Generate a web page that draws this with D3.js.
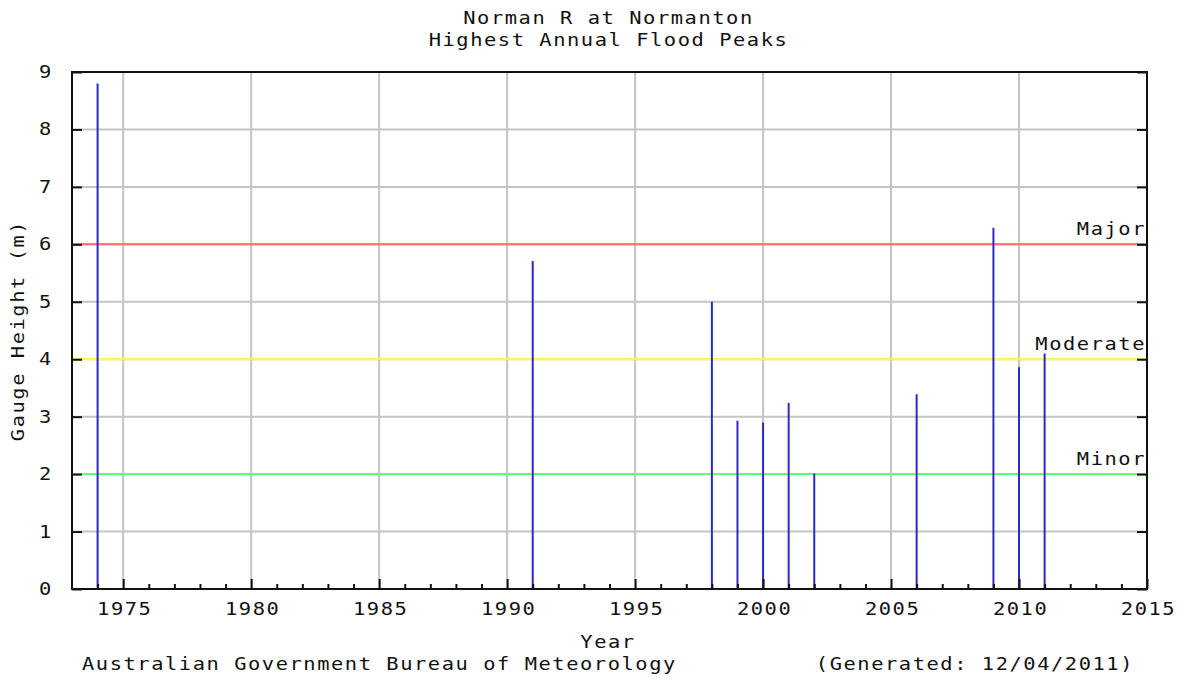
<!DOCTYPE html>
<html>
<head>
<meta charset="utf-8">
<script src="https://cdn.jsdelivr.net/npm/d3@7"></script>
<style>
  body { margin: 0; background: #fff; }
  svg text { font-family: "DejaVu Sans Mono", monospace; font-size: 17px; letter-spacing: 1.3px; fill: #111; }
</style>
</head>
<body>
<svg id="chart" width="1180" height="680"></svg>
<script>
const titleLines = ["Norman R at Normanton", "Highest Annual Flood Peaks"];
const years = [1974, 1991, 1998, 1999, 2000, 2001, 2002, 2006, 2009, 2010, 2011];
const peaks = [8.80, 5.71, 5.00, 2.93, 2.90, 3.24, 2.01, 3.39, 6.29, 3.86, 4.10];
const xMajorTicks = [1975, 1980, 1985, 1990, 1995, 2000, 2005, 2010, 2015];
const yTicks = [0, 1, 2, 3, 4, 5, 6, 7, 8, 9];
const levelNames = ["Major", "Moderate", "Minor"];
const levelValues = [6, 4, 2];
const levelColors = ["#ff6a6a", "#ffff3c", "#66ff66"];
const xLabel = "Year";
const yLabel = "Gauge Height (m)";
const footerLeft = "Australian Government Bureau of Meteorology";
const footerRight = "(Generated: 12/04/2011)";

const SX = 1.2; // horizontal glyph stretch to mimic the wide bitmap font
const svg = d3.select("#chart");
const L = 72, R = 1147, T = 72, B = 589;
const x = d3.scaleLinear().domain([1973, 2015]).range([L, R]);
const y = d3.scaleLinear().domain([0, 9]).range([B, T]);

function label(parent, px, py, str, anchor, rot) {
  const g = parent.append("g").attr("transform", `translate(${px},${py})${rot ? ` rotate(${rot})` : ""} scale(${SX},1)`);
  g.append("text").attr("text-anchor", anchor || "start").text(str);
  return g;
}

// grid
const grid = svg.append("g");
grid.selectAll("line.gx").data(xMajorTicks.filter(v => v < 2015)).join("line")
  .attr("x1", d => x(d)).attr("x2", d => x(d)).attr("y1", T).attr("y2", B)
  .attr("stroke", "#c4c4c4").attr("stroke-width", 2);
grid.selectAll("line.gy").data(yTicks.filter(v => v > 0 && v < 9)).join("line")
  .attr("x1", L).attr("x2", R).attr("y1", d => y(d)).attr("y2", d => y(d))
  .attr("stroke", "#c4c4c4").attr("stroke-width", 2);

// threshold lines
svg.append("g").selectAll("line").data(levelValues).join("line")
  .attr("x1", L).attr("x2", R).attr("y1", d => y(d)).attr("y2", d => y(d))
  .attr("stroke", (d, i) => levelColors[i]).attr("stroke-width", 2);
const lvl = svg.append("g");
levelValues.forEach((v, i) => label(lvl, R - 1, y(v) - 9, levelNames[i], "end"));

// bars
svg.append("g").selectAll("line").data(years).join("line")
  .attr("x1", d => x(d)).attr("x2", d => x(d))
  .attr("y1", y(0)).attr("y2", (d, i) => y(peaks[i]))
  .attr("stroke", "#2a2ac4").attr("stroke-width", 2);

// x axis: minor ticks
const minorYears = d3.range(1974, 2015).filter(v => v % 5 !== 0);
const xMinor = d3.axisBottom(x).tickValues(minorYears).tickSize(-5).tickFormat("");
const gxm = svg.append("g").attr("transform", `translate(0,${B})`).call(xMinor);
gxm.select(".domain").remove();
gxm.selectAll("line").attr("stroke", "#111").attr("stroke-width", 2);

const xMajor = d3.axisBottom(x).tickValues(xMajorTicks).tickSize(-10).tickPadding(14).tickFormat(d3.format("d"));
const gx = svg.append("g").attr("transform", `translate(0,${B})`).call(xMajor);
gx.select(".domain").remove();
gx.selectAll("line").attr("stroke", "#111").attr("stroke-width", 2);
gx.selectAll("text").attr("font-family", null).attr("font-size", null).attr("fill", null)
  .attr("transform", `scale(${SX},1)`).attr("dx", "0.05em");

// y axis left
const yLeft = d3.axisLeft(y).tickValues(yTicks).tickSize(-10).tickPadding(16).tickFormat(d3.format("d"));
const gy = svg.append("g").attr("transform", `translate(${L},0)`).call(yLeft);
gy.select(".domain").remove();
gy.selectAll("line").attr("stroke", "#111").attr("stroke-width", 2);
gy.selectAll("text").attr("font-family", null).attr("font-size", null).attr("fill", null)
  .attr("transform", `scale(${SX},1)`);

// y axis right ticks
const yRight = d3.axisRight(y).tickValues(yTicks).tickSize(-10).tickFormat("");
const gyr = svg.append("g").attr("transform", `translate(${R},0)`).call(yRight);
gyr.select(".domain").remove();
gyr.selectAll("line").attr("stroke", "#111").attr("stroke-width", 2);

// frame
svg.append("rect").attr("x", L).attr("y", T).attr("width", R - L).attr("height", B - T)
  .attr("fill", "none").attr("stroke", "#111").attr("stroke-width", 2);

// titles and labels
const txt = svg.append("g");
titleLines.forEach((t, i) => label(txt, (L + R) / 2 - 1, 24 + i * 22, t, "middle"));
label(txt, 608, 648, xLabel, "middle");
label(txt, 24, (T + B) / 2, yLabel, "middle", -90);
label(txt, 82, 670, footerLeft, "start");
label(txt, 1134, 670, footerRight, "end");
</script>
</body>
</html>
